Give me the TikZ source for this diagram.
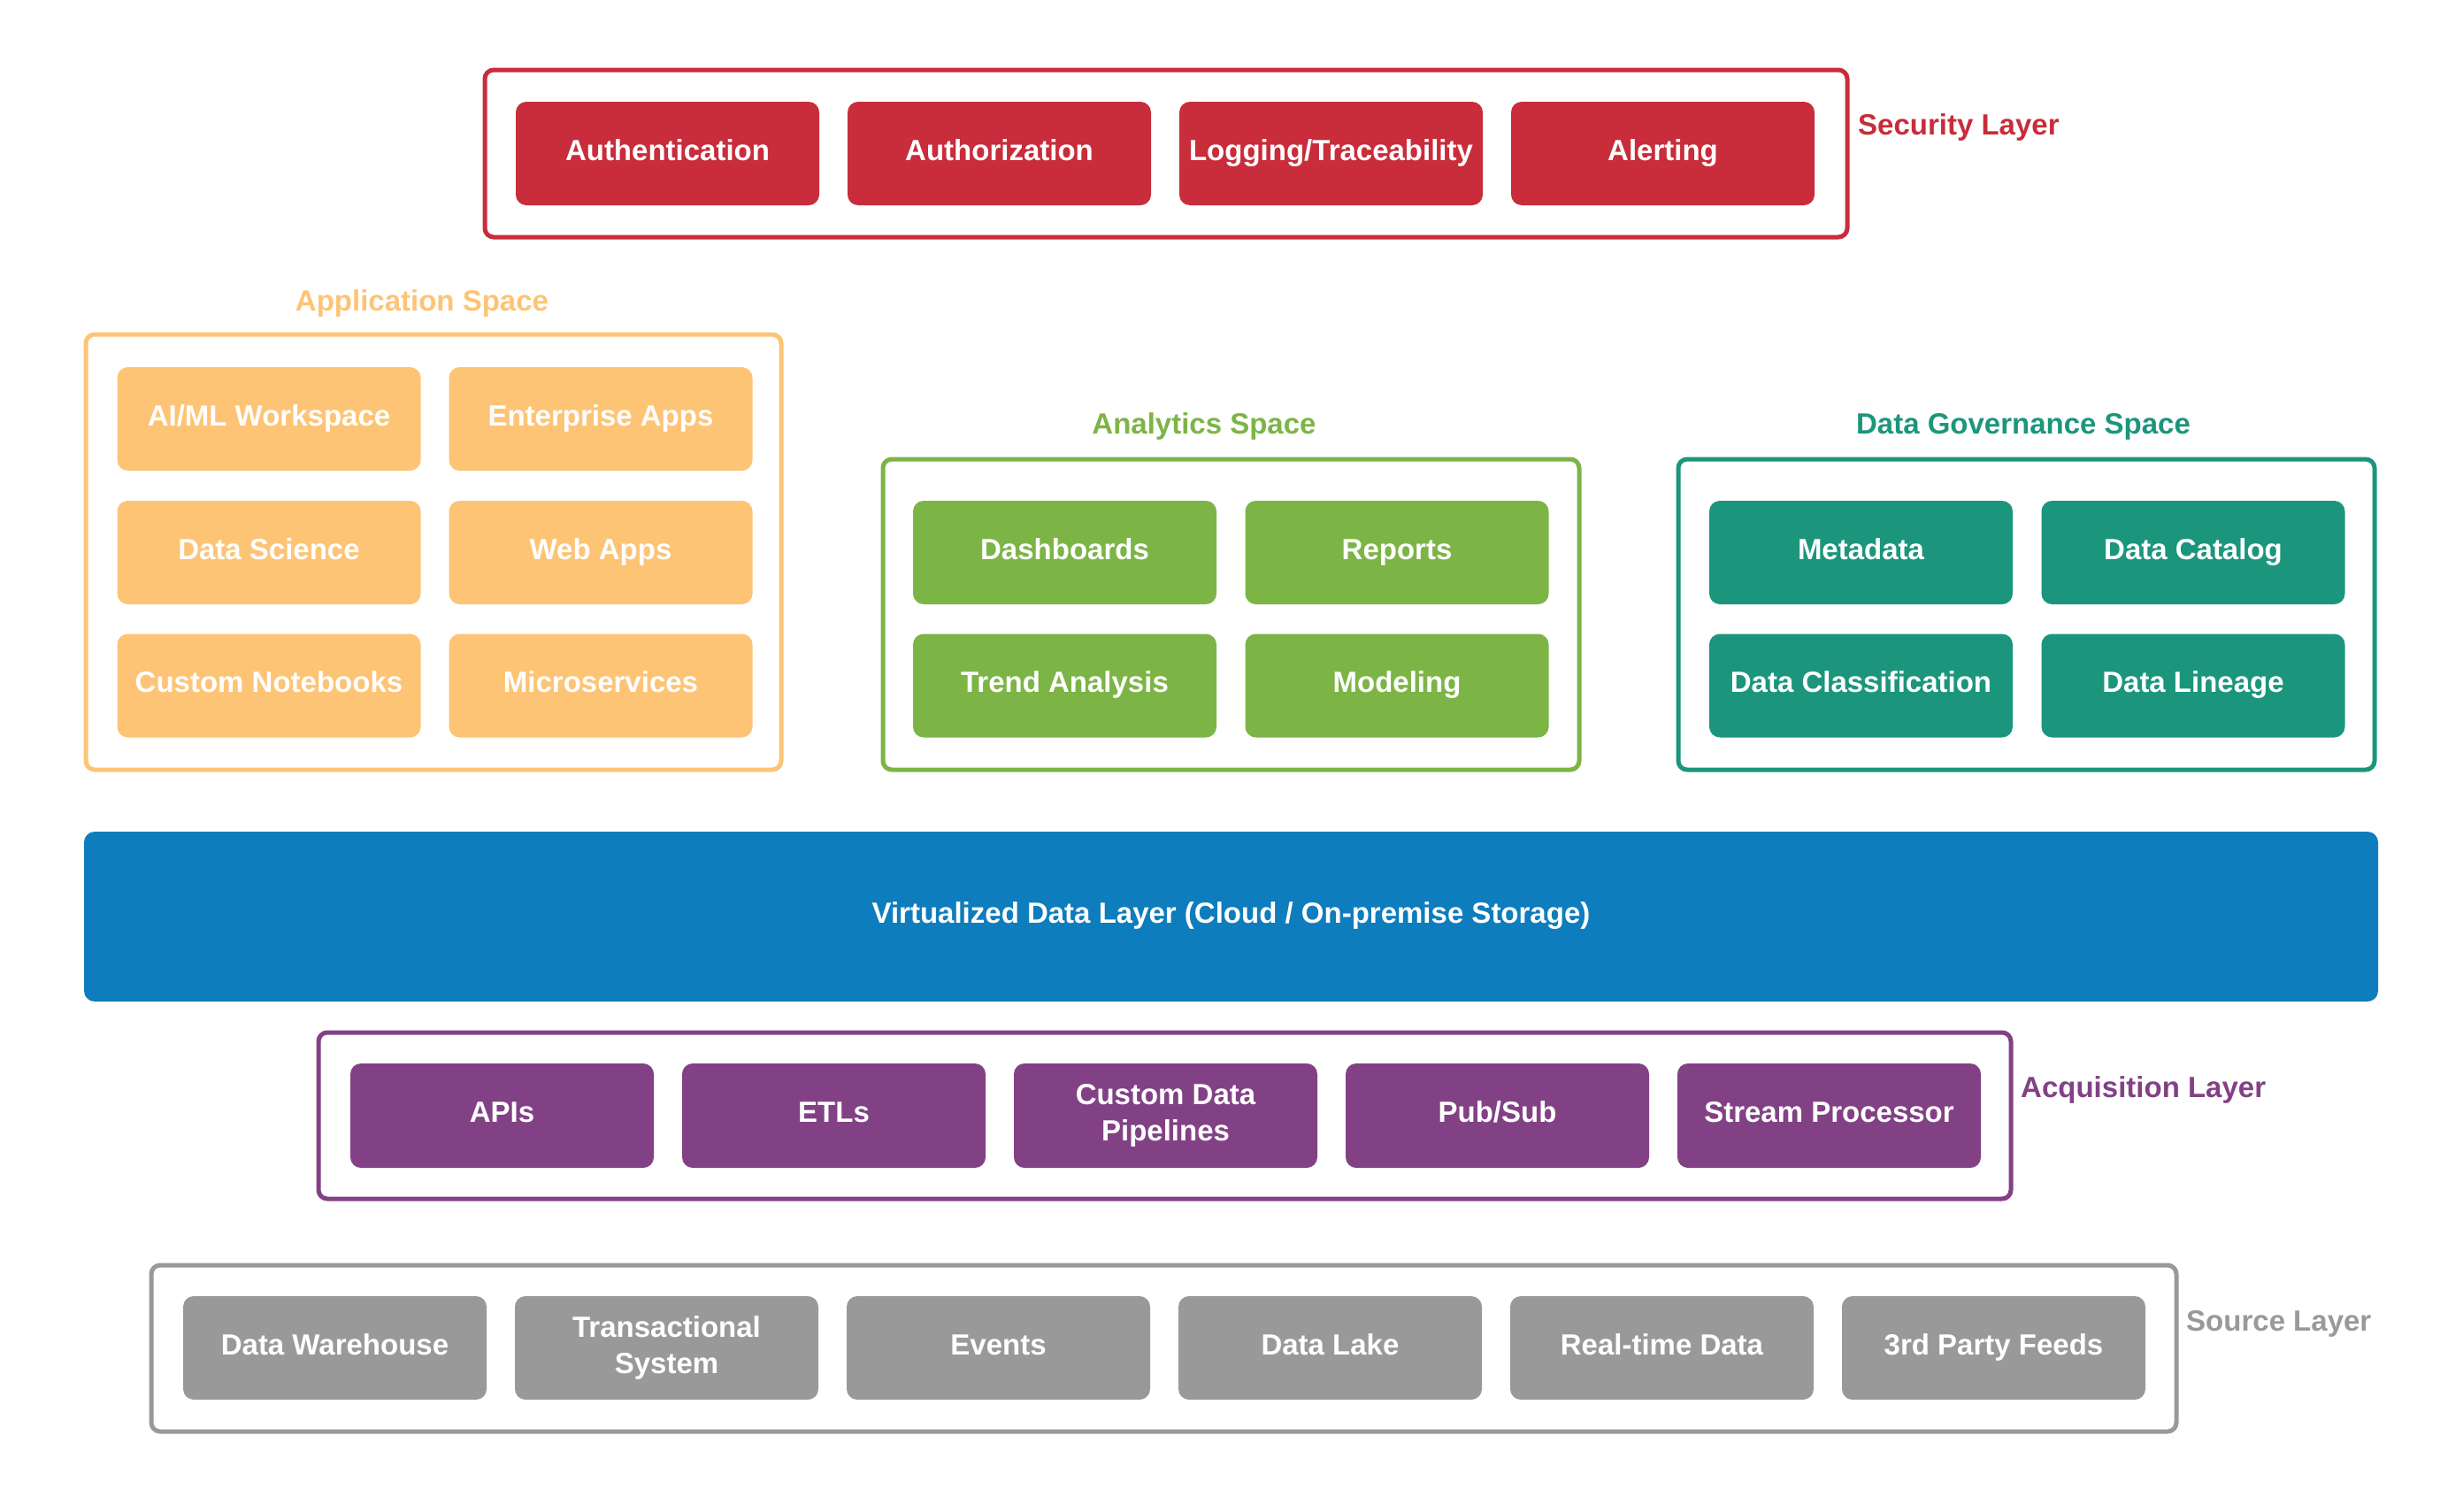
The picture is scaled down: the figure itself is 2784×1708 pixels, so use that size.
\documentclass[tikz,border=0pt]{standalone}
\usepackage{fontspec}
\setmainfont{Liberation Sans}
\definecolor{cred}{HTML}{C92C3A}
\definecolor{corange}{HTML}{FDC476}
\definecolor{cgreen}{HTML}{7CB546}
\definecolor{cteal}{HTML}{1B967C}
\definecolor{cblue}{HTML}{0D7DBD}
\definecolor{cpurple}{HTML}{824185}
\definecolor{cgrey}{HTML}{999999}
\tikzset{
  box/.style={rectangle, rounded corners=12pt, minimum width=343pt, minimum height=117pt,
    inner sep=0pt, text=white, align=center, font=\bfseries\fontsize{33}{41}\selectfont},
  box1/.style={box, text height=23.6pt, text depth=8pt},
  frame/.style={rectangle, rounded corners=10pt, line width=5pt, fill=white, inner sep=0pt},
  lbl/.style={inner sep=0pt, text height=23.6pt, text depth=8pt, font=\bfseries\fontsize{33}{41}\selectfont},
}
\begin{document}
\begin{tikzpicture}[x=1pt,y=-1pt]
\useasboundingbox (0,0) rectangle (2784,1708);
\fill[white] (0,0) rectangle (2784,1708);

% Security layer
\node[frame, draw=cred, minimum width=1540pt, minimum height=189pt] (sec) at (1318,173.5) {};
\node[box1, fill=cred] (auth) at (754.5,173.5) {Authentication};
\node[box1, fill=cred] (authz) at (1129.5,173.5) {Authorization};
\node[box1, fill=cred] (logg) at (1504.5,173.5) {Logging/Traceability};
\node[box1, fill=cred] (alert) at (1879.5,173.5) {Alerting};
\node[lbl, text=cred, anchor=west] (seclbl) at (2100,145) {Security Layer};

% Application space
\node[lbl, text=corange] (applbl) at (477,344) {Application Space};
\node[frame, draw=corange, minimum width=786pt, minimum height=492pt] (app) at (490,624) {};
\node[box1, fill=corange] (aiml) at (304,473.5) {AI/ML Workspace};
\node[box1, fill=corange] (entapp) at (679,473.5) {Enterprise Apps};
\node[box1, fill=corange] (dsci) at (304,624.5) {Data Science};
\node[box1, fill=corange] (webapp) at (679,624.5) {Web Apps};
\node[box1, fill=corange] (cnb) at (304,775) {Custom Notebooks};
\node[box1, fill=corange] (micro) at (679,775) {Microservices};

% Analytics space
\node[lbl, text=cgreen] (anlbl) at (1361,483) {Analytics Space};
\node[frame, draw=cgreen, minimum width=787pt, minimum height=351pt] (ana) at (1391.5,694.5) {};
\node[box1, fill=cgreen] (dash) at (1203.5,624.5) {Dashboards};
\node[box1, fill=cgreen] (rep) at (1579,624.5) {Reports};
\node[box1, fill=cgreen] (trend) at (1203.5,775) {Trend Analysis};
\node[box1, fill=cgreen] (model) at (1579,775) {Modeling};

% Data governance space
\node[lbl, text=cteal] (dglbl) at (2287,483) {Data Governance Space};
\node[frame, draw=cteal, minimum width=787pt, minimum height=351pt] (dg) at (2290.5,694.5) {};
\node[box1, fill=cteal] (meta) at (2103.5,624.5) {Metadata};
\node[box1, fill=cteal] (dcat) at (2479,624.5) {Data Catalog};
\node[box1, fill=cteal] (dclass) at (2103.5,775) {Data Classification};
\node[box1, fill=cteal] (dlin) at (2479,775) {Data Lineage};

% Virtualized data layer
\node[box1, fill=cblue, minimum width=2593pt, minimum height=192pt] (vdl) at (1391.5,1036)
  {Virtualized Data Layer (Cloud / On-premise Storage)};

% Acquisition layer
\node[frame, draw=cpurple, minimum width=1913pt, minimum height=188pt] (acq) at (1316.5,1261) {};
\node[box1, fill=cpurple, minimum height=118pt] (apis) at (567.5,1261) {APIs};
\node[box1, fill=cpurple, minimum height=118pt] (etls) at (942.5,1261) {ETLs};
\node[box, fill=cpurple, minimum height=118pt] (cdp) at (1317.5,1261) {Custom Data\\Pipelines};
\node[box1, fill=cpurple, minimum height=118pt] (pubsub) at (1692.5,1261) {Pub/Sub};
\node[box1, fill=cpurple, minimum height=118pt] (stream) at (2067.5,1261) {Stream Processor};
\node[lbl, text=cpurple, anchor=west] (acqlbl) at (2284,1233) {Acquisition Layer};

% Source layer
\node[frame, draw=cgrey, minimum width=2289pt, minimum height=188pt] (src) at (1315.5,1524) {};
\node[box1, fill=cgrey] (dwh) at (378.5,1523.5) {Data Warehouse};
\node[box, fill=cgrey] (trans) at (753.5,1523.5) {Transactional\\System};
\node[box1, fill=cgrey] (events) at (1128.5,1523.5) {Events};
\node[box1, fill=cgrey] (dlake) at (1503.5,1523.5) {Data Lake};
\node[box1, fill=cgrey] (rtd) at (1878.5,1523.5) {Real-time Data};
\node[box1, fill=cgrey] (third) at (2253.5,1523.5) {3rd Party Feeds};
\node[lbl, text=cgrey, anchor=west] (srclbl) at (2471,1497) {Source Layer};
\end{tikzpicture}
\end{document}
